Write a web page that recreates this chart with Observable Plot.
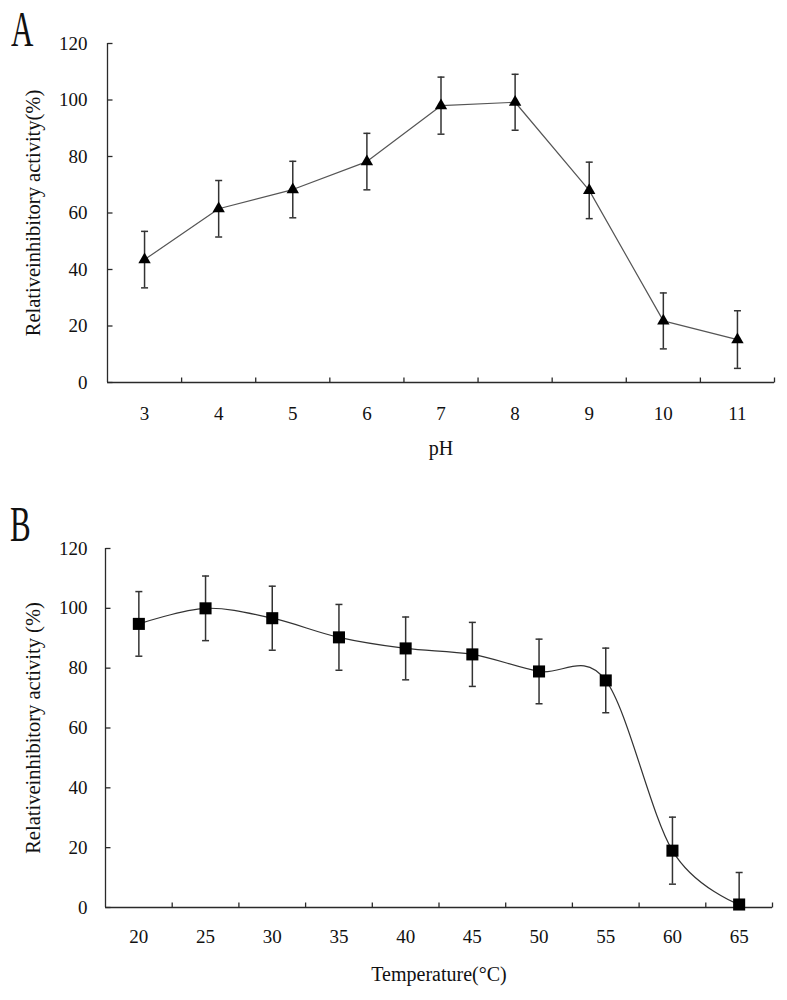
<!DOCTYPE html>
<html><head><meta charset="utf-8">
<script src="https://cdn.jsdelivr.net/npm/d3@7"></script>
<script src="https://cdn.jsdelivr.net/npm/@observablehq/plot@0.6"></script>
<style>
body{margin:0;background:#fff;}
#wrap{position:relative;width:787px;height:1000px;font-family:"Liberation Serif",serif;overflow:hidden;}
.panel{position:absolute;left:0;}
.letter{position:absolute;font-family:"Liberation Serif",serif;font-size:50px;transform-origin:left top;transform:scaleX(0.62);line-height:1;color:#111;}
</style></head><body>
<div id="wrap">
  <div id="pa" class="panel" style="top:0"></div>
  <div id="pb" class="panel" style="top:495px"></div>
  <div class="letter" style="left:11px;top:4px">A</div>
  <div class="letter" style="left:10px;top:499px">B</div>
</div>
<script>
// Panel A: pH
const phValues = [3, 4, 5, 6, 7, 8, 9, 10, 11];
const phActivity = [43.5, 61.5, 68.3, 78.2, 98, 99.2, 68, 21.8, 15.2];
const phError = [10, 10, 10, 10, 10.1, 9.9, 10, 9.9, 10.2];
// Panel B: temperature
const tempValues = [20, 25, 30, 35, 40, 45, 50, 55, 60, 65];
const tempActivity = [94.8, 100, 96.7, 90.3, 86.6, 84.6, 78.9, 75.9, 19, 1];
const tempError = [10.8, 10.8, 10.7, 11, 10.5, 10.7, 10.8, 10.8, 11.2, 10.7];
const yTicks = [0, 20, 40, 60, 80, 100, 120];

const axisColor = "#2a2a2a";
const capSym = {draw(ctx){ctx.moveTo(-3.5,0);ctx.lineTo(3.5,0);}};
const yTickSym = {draw(ctx){ctx.moveTo(0,0);ctx.lineTo(5,0);}};
const xTickSym = {draw(ctx){ctx.moveTo(0,0);ctx.lineTo(0,-5);}};

function panel({cats, vals, errs, marker, markerR, curve, lineColor, xLabel, yLabel, height, marginTop, marginBottom, marginLeft, marginRight, xPad, yPad, yLabelDx, xLabelDy}) {
  const step = cats[1] - cats[0];
  const x0 = cats[0] - step / 2, x1 = cats[cats.length - 1] + step / 2;
  const bounds = cats.map(c => c + step / 2);
  const rows = cats.map((c, i) => ({x: c, v: vals[i], lo: Math.max(0, vals[i] - errs[i]), hi: vals[i] + errs[i]}));
  return Plot.plot({
    width: 787, height, marginTop, marginBottom, marginLeft, marginRight,
    x: {domain: [x0, x1]},
    y: {domain: [0, 120]},
    style: {fontFamily: "Liberation Serif, serif", fontSize: "19px", color: "#111", background: "white", overflow: "visible"},
    marks: [
      Plot.ruleY([0], {stroke: axisColor, strokeWidth: 1.3}),
      Plot.ruleX([x0], {stroke: axisColor, strokeWidth: 1.3}),
      Plot.dot(yTicks, {y: d => d, frameAnchor: "left", symbol: yTickSym, stroke: axisColor, fill: "none", strokeWidth: 1.3}),
      Plot.dot(bounds, {x: d => d, frameAnchor: "bottom", symbol: xTickSym, stroke: axisColor, fill: "none", strokeWidth: 1.3}),
      Plot.axisY({ticks: yTicks, tickSize: 0, tickPadding: yPad, label: null, fontSize: 19}),
      Plot.axisX({ticks: cats, tickSize: 0, tickPadding: xPad, label: null, fontSize: 19, tickFormat: d => String(d)}),
      Plot.ruleX(rows, {x: "x", y1: "lo", y2: "hi", stroke: "#333", strokeWidth: 1.5}),
      Plot.dot(rows, {x: "x", y: "hi", symbol: capSym, stroke: "#333", fill: "none", strokeWidth: 1.5}),
      Plot.dot(rows.filter(d => d.lo > 0), {x: "x", y: "lo", symbol: capSym, stroke: "#333", fill: "none", strokeWidth: 1.5}),
      Plot.line(rows, {x: "x", y: "v", curve, stroke: lineColor, strokeWidth: 1.2}),
      Plot.dot(rows, {x: "x", y: "v", symbol: marker, r: markerR, fill: "#000", stroke: "none"}),
      Plot.text([xLabel], {frameAnchor: "bottom", dy: xLabelDy, lineAnchor: "middle", textAnchor: "middle", fontSize: 20, fill: "#111"}),
      Plot.text([yLabel], {frameAnchor: "left", rotate: -90, dx: yLabelDx, lineAnchor: "middle", textAnchor: "middle", fontSize: 20.5, fill: "#111"})
    ]
  });
}

document.getElementById("pa").append(panel({
  cats: phValues, vals: phActivity, errs: phError, marker: "triangle", markerR: 4.6, curve: "linear", lineColor: "#555",
  xLabel: "pH", yLabel: "Relativeinhibitory activity(%)",
  height: 495, marginTop: 43, marginBottom: 113, marginLeft: 107, marginRight: 13,
  xPad: 24, yPad: 20, yLabelDx: -74, xLabelDy: 66
}));
document.getElementById("pb").append(panel({
  cats: tempValues, vals: tempActivity, errs: tempError, marker: "square", markerR: 6.8, curve: "cardinal", lineColor: "#333",
  xLabel: "Temperature(°C)", yLabel: "Relativeinhibitory activity (%)",
  height: 505, marginTop: 53, marginBottom: 93, marginLeft: 105, marginRight: 15,
  xPad: 22, yPad: 18, yLabelDx: -72, xLabelDy: 67
}));
</script>
</body></html>
